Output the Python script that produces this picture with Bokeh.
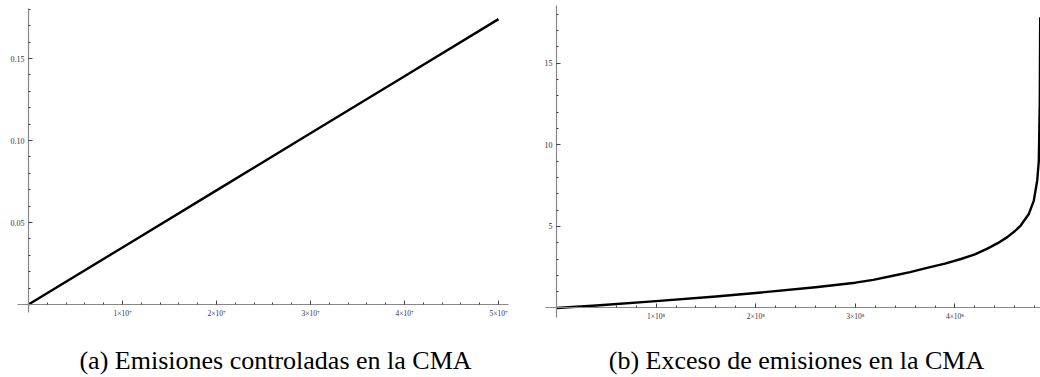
from bokeh.plotting import figure
from bokeh.layouts import row
from bokeh.models import FixedTicker, Label
from bokeh.embed import file_html
from bokeh.resources import INLINE

# ---- data: panel (a) ----
a_x = [0, 1e7, 2e7, 3e7, 4e7, 5e7]
a_y = [0, 0.0348, 0.0696, 0.1044, 0.1392, 0.174]
a_xticks = [1e7, 2e7, 3e7, 4e7, 5e7]
a_xlabels = ["1×10⁷", "2×10⁷", "3×10⁷", "4×10⁷", "5×10⁷"]
a_yticks = [0.05, 0.10, 0.15]
a_ylabels = ["0.05", "0.10", "0.15"]
a_caption = "(a) Emisiones controladas en la CMA"

# ---- data: panel (b) ----
b_x = [0, 0.4e8, 1.0e8, 1.6e8, 2.0e8, 2.6e8, 3.0e8, 3.18e8, 3.39e8, 3.55e8,
       3.72e8, 3.9e8, 4.06e8, 4.2e8, 4.32e8, 4.43e8, 4.525e8, 4.6e8, 4.66e8,
       4.742e8, 4.792e8, 4.826e8, 4.842e8, 4.852e8, 4.856e8]
b_y = [0, 0.15, 0.42, 0.70, 0.92, 1.27, 1.55, 1.72, 1.99, 2.2,
       2.46, 2.72, 3.0, 3.28, 3.62, 3.97, 4.34, 4.7, 5.05,
       5.76, 6.58, 7.81, 9.0, 12.7, 17.8]
b_xticks = [1e8, 2e8, 3e8, 4e8]
b_xlabels = ["1×10⁸", "2×10⁸", "3×10⁸", "4×10⁸"]
b_yticks = [5, 10, 15]
b_ylabels = ["5", "10", "15"]
b_caption = "(b) Exceso de emisiones en la CMA"

TICK_FONT = "Liberation Serif"
CAP_FONT = "Liberation Serif"
H = 377


def style(p, xticks, xminor, xlabels, xbounds, yticks, yminor, ylabels, ybounds):
    p.grid.visible = False
    p.outline_line_color = None
    for ax in (p.xaxis[0], p.yaxis[0]):
        ax.fixed_location = 0
        ax.axis_line_color = "#888888"
        ax.axis_line_width = 1.2
        ax.major_tick_line_color = "#444444"
        ax.minor_tick_line_color = "#444444"
        ax.major_tick_in = 4
        ax.major_tick_out = 0
        ax.minor_tick_in = 2
        ax.minor_tick_out = 0
        ax.major_label_text_font = TICK_FONT
        ax.major_label_text_font_size = "8px"
        ax.major_label_text_color = "#333344"
        ax.major_label_standoff = 4
    p.xaxis[0].bounds = xbounds
    p.yaxis[0].bounds = ybounds
    p.xaxis[0].ticker = FixedTicker(ticks=xticks, minor_ticks=xminor)
    p.yaxis[0].ticker = FixedTicker(ticks=yticks, minor_ticks=yminor)
    p.xaxis[0].major_label_overrides = dict(zip(xticks, xlabels))
    p.yaxis[0].major_label_overrides = dict(zip(yticks, ylabels))
    p.xaxis[0].major_label_text_font_size = "7.5px"


def make_fig(xr, yr):
    return figure(width=520, height=H, output_backend="svg", toolbar_location=None,
                  x_range=xr, y_range=yr,
                  min_border_left=0, min_border_right=0, min_border_top=0,
                  min_border_bottom=0)


pa = make_fig((-2.979e6, 5.234e7), (-0.04451, 0.18537))
pa.line(a_x, a_y, line_color="black", line_width=2.4)
style(pa, a_xticks, [2e6 * i for i in range(1, 26)], a_xlabels, (-1.17e6, 5.106e7),
      a_yticks, [0.01 * i for i in range(1, 19)], a_ylabels, (-0.0049, 0.1805))
pa.add_layout(Label(x=275, y=17, x_units="screen", y_units="screen", text=a_caption,
                    text_font=CAP_FONT, text_font_size="26px",
                    text_align="center", text_baseline="alphabetic", text_color="black"))

pb = make_fig((-0.3614e8, 4.859e8), (-4.256, 18.83))
pb.line(b_x, b_y, line_color="black", line_width=2.4, line_join="round")
style(pb, b_xticks, [2e7 * i for i in range(1, 25)], b_xlabels, (-0.11e8, 4.859e8),
      b_yticks, list(range(1, 19)), b_ylabels, (-0.58, 18.52))
pb.add_layout(Label(x=276, y=17, x_units="screen", y_units="screen", text=b_caption,
                    text_font=CAP_FONT, text_font_size="26px",
                    text_align="center", text_baseline="alphabetic", text_color="black"))

layout = row(pa, pb)
open("out.html", "w").write(file_html(layout, INLINE))
